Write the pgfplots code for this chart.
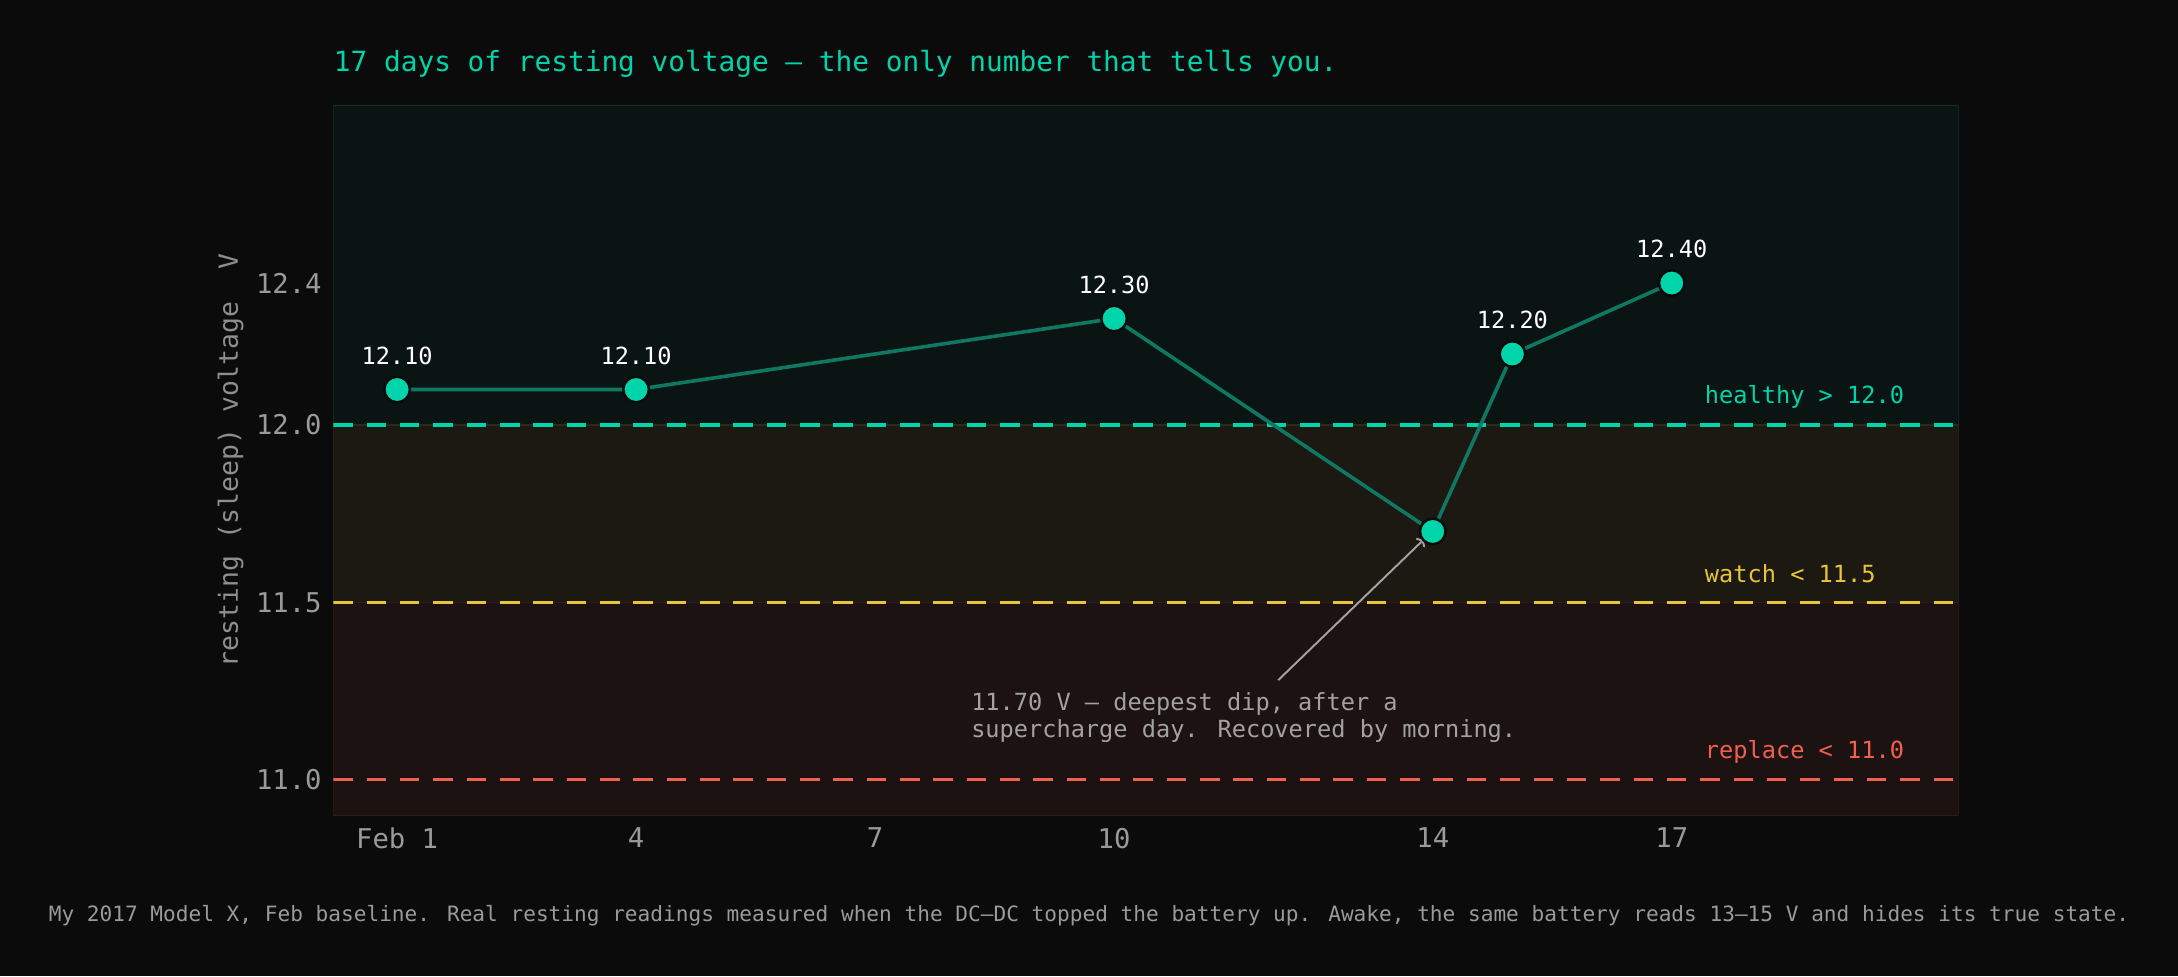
\documentclass[border=0pt]{standalone}
\usepackage{pgfplots}
\pgfplotsset{compat=1.18}
\usepackage{fontspec}
\setmainfont{DejaVu Sans Mono}
\usetikzlibrary{arrows.meta}

\definecolor{bg}{HTML}{0B0B0B}
\definecolor{tealc}{HTML}{00D4AA}
\definecolor{linec}{HTML}{0E7862}
\definecolor{yellowc}{HTML}{E8C43A}
\definecolor{redc}{HTML}{F0604F}
\definecolor{tickgray}{HTML}{9A9A9A}
\definecolor{labgray}{HTML}{8E8E8E}
\definecolor{annogray}{HTML}{A2A2A2}
\definecolor{bandhi}{HTML}{0A1513}
\definecolor{bandmid}{HTML}{1B1912}
\definecolor{bandlo}{HTML}{1C1212}
\definecolor{edgehi}{HTML}{12302A}
\definecolor{edgemid}{HTML}{2E2A18}
\definecolor{edgelo}{HTML}{321A1A}

\begin{document}
\begin{tikzpicture}
\fill[bg] (0,0) rectangle (784pt,351.5pt);
\useasboundingbox (0,0) rectangle (784pt,351.5pt);

% title and footnote
\node[anchor=west, inner sep=0, text=tealc, font=\fontsize{10}{12}\selectfont]
  at (120pt,328.5pt) {17 days of resting voltage — the only number that tells you.};
\node[inner sep=0, text=tickgray, font=\fontsize{7.6}{9}\selectfont]
  at (392pt,22pt) {My 2017 Model X, Feb baseline. Real resting readings measured when the DC–DC topped the battery up. Awake, the same battery reads 13–15 V and hides its true state.};

\begin{axis}[
    at={(120pt,58pt)}, anchor=south west,
    scale only axis, width=585pt, height=255.5pt,
    xmin=0.2, xmax=20.6, ymin=10.9, ymax=12.9,
    axis line style={draw=none},
    major tick length=0pt,
    xtick={1,4,7,10,14,17},
    xticklabels={Feb 1,4,7,10,14,17},
    ytick={11,11.5,12,12.4},
    yticklabels={11.0,11.5,12.0,12.4},
    ticklabel style={font=\fontsize{9.8}{11}\selectfont, text=tickgray},
    xticklabel style={yshift=-1pt},
    yticklabel style={xshift=-0.7pt},
    ylabel={resting (sleep) voltage\ \ V},
    ylabel style={at={(axis description cs:-0.0632,0.5)}, anchor=center,
        font=\fontsize{9.5}{11}\selectfont, text=labgray},
]
% zone bands
\filldraw[fill=bandhi, draw=edgehi, line width=0.6pt] (axis cs:0.2,12.0) rectangle (axis cs:20.6,12.9);
\filldraw[fill=bandmid, draw=edgemid, line width=0.6pt] (axis cs:0.2,11.5) rectangle (axis cs:20.6,12.0);
\filldraw[fill=bandlo, draw=edgelo, line width=0.6pt] (axis cs:0.2,10.9) rectangle (axis cs:20.6,11.5);

% thresholds
\addplot[tealc, line width=1.1pt, dash pattern=on 7pt off 5pt] coordinates {(0.2,12.0) (20.6,12.0)};
\addplot[yellowc, line width=1.1pt, dash pattern=on 7pt off 5pt] coordinates {(0.2,11.5) (20.6,11.5)};
\addplot[redc, line width=1.1pt, dash pattern=on 7pt off 5pt] coordinates {(0.2,11.0) (20.6,11.0)};

\node[anchor=west, inner sep=0, text=tealc, font=\fontsize{8.5}{10}\selectfont, yshift=10pt]
  at (axis cs:17.41,12.0) {healthy > 12.0};
\node[anchor=west, inner sep=0, text=yellowc, font=\fontsize{8.5}{10}\selectfont, yshift=10.5pt]
  at (axis cs:17.41,11.5) {watch < 11.5};
\node[anchor=west, inner sep=0, text=redc, font=\fontsize{8.5}{10}\selectfont, yshift=10pt]
  at (axis cs:17.41,11.0) {replace < 11.0};

% annotation
\draw[annogray, line width=0.7pt, -{To[length=2.5pt,width=4.5pt]}]
  (axis cs:12.06,11.281) -- (axis cs:13.9,11.68);
\node[anchor=west, align=left, inner sep=0, text=annogray, font=\fontsize{8.5}{9.6}\selectfont]
  at (axis cs:8.2,11.175) {11.70 V — deepest dip, after a\\supercharge day. Recovered by morning.};

% readings
\addplot[linec, line width=1.3pt, mark=*, mark size=4.6pt,
    mark options={fill=tealc, draw=bg, line width=0.9pt},
    nodes near coords, point meta=explicit symbolic,
    every node near coord/.append style={anchor=south, yshift=5.2pt,
        font=\fontsize{8.5}{10}\selectfont, text=white}]
  coordinates {(1,12.1)[12.10] (4,12.1)[12.10] (10,12.3)[12.30]
               (14,11.7)[] (15,12.2)[12.20] (17,12.4)[12.40]};
\end{axis}
\end{tikzpicture}
\end{document}
